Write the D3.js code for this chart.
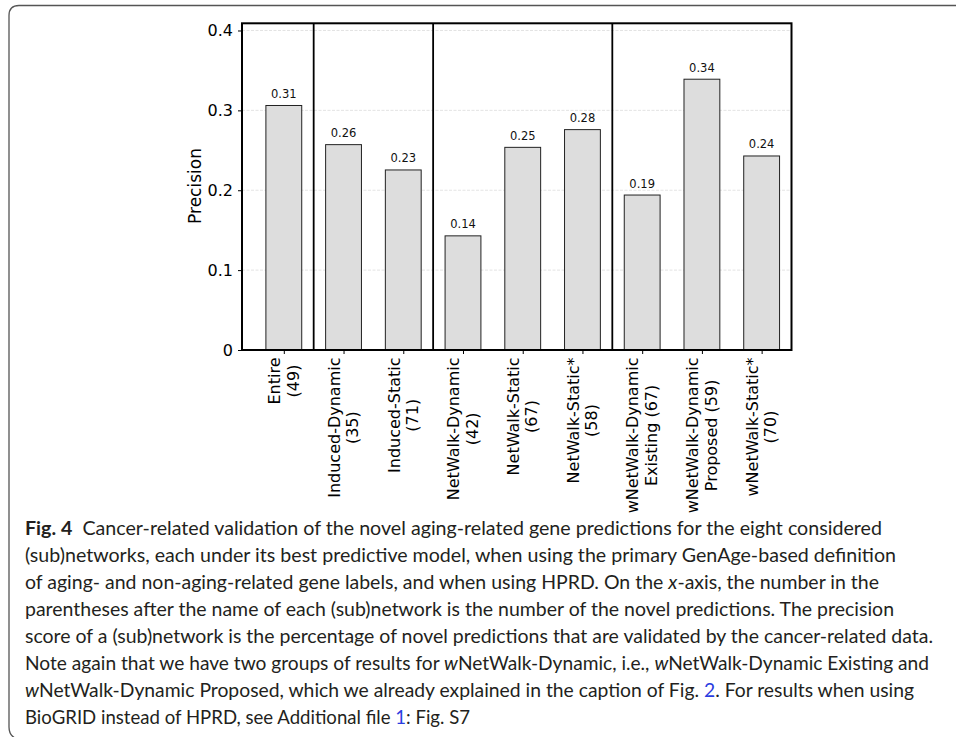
<!DOCTYPE html>
<html>
<head>
<meta charset="utf-8">
<script src="https://cdn.jsdelivr.net/npm/d3@7"></script>
<style>
  body { margin: 0; background: #fff; }
  svg { display: block; }
</style>
</head>
<body>
<svg width="956" height="737"></svg>
<script>
// data
var names = ["Entire", "Induced-Dynamic", "Induced-Static", "NetWalk-Dynamic", "NetWalk-Static",
             "NetWalk-Static*", "wNetWalk-Dynamic Existing", "wNetWalk-Dynamic Proposed", "wNetWalk-Static*"];
var tickLines = [["Entire", "(49)"], ["Induced-Dynamic", "(35)"], ["Induced-Static", "(71)"],
                 ["NetWalk-Dynamic", "(42)"], ["NetWalk-Static", "(67)"], ["NetWalk-Static*", "(58)"],
                 ["wNetWalk-Dynamic", "Existing (67)"], ["wNetWalk-Dynamic", "Proposed (59)"],
                 ["wNetWalk-Static*", "(70)"]];
var precision = [0.3061, 0.2571, 0.2254, 0.1429, 0.2537, 0.2759, 0.1940, 0.3390, 0.2429];
var groupBreaks = [0.5, 2.5, 5.5];
var yTicks = [0, 0.1, 0.2, 0.3, 0.4];

var caption = [
  [["Fig. 4", "b"], ["  Cancer-related validation of the novel aging-related gene predictions for the eight considered"]],
  [["(sub)networks, each under its best predictive model, when using the primary GenAge-based definition"]],
  [["of aging- and non-aging-related gene labels, and when using HPRD. On the "], ["x", "i"], ["-axis, the number in the"]],
  [["parentheses after the name of each (sub)network is the number of the novel predictions. The precision"]],
  [["score of a (sub)network is the percentage of novel predictions that are validated by the cancer-related data."]],
  [["Note again that we have two groups of results for "], ["w", "i"], ["NetWalk-Dynamic, i.e., "], ["w", "i"], ["NetWalk-Dynamic Existing and"]],
  [["w", "i"], ["NetWalk-Dynamic Proposed, which we already explained in the caption of Fig. "], ["2", "l"], [". For results when using"]],
  [["BioGRID instead of HPRD, see Additional file "], ["1", "l"], [": Fig. S7"]]
];
var captionEnds = [882, 896, 879, 894, 933, 929, 914, 470];

var svg = d3.select("svg"),
    plotL = 242, plotR = 791.5, plotT = 23.3, plotB = 350;

var x = d3.scaleLinear().domain([-0.7, 8.5]).range([plotL, plotR]);
var y = d3.scaleLinear().domain([0, 0.409]).range([plotB, plotT]);
var barW = x(0.6) - x(0);

// outer figure frame
svg.append("path")
  .attr("d", "M956,5.5 H19 Q9,5.5 9,15.5 V727 Q9,735 15,738")
  .attr("fill", "none")
  .attr("stroke", "#555")
  .attr("stroke-width", 1.3);

var g = svg.append("g");

// grid
g.append("g")
  .selectAll("line")
  .data(yTicks.slice(1))
  .enter().append("line")
  .attr("x1", plotL).attr("x2", plotR)
  .attr("y1", function(d) { return y(d); })
  .attr("y2", function(d) { return y(d); })
  .attr("stroke", "#dcdcdc")
  .attr("stroke-width", 0.8)
  .attr("stroke-dasharray", "3,1.5");

// bars
g.append("g")
  .selectAll("rect")
  .data(precision)
  .enter().append("rect")
  .attr("x", function(d, i) { return x(i) - barW / 2; })
  .attr("y", function(d) { return y(d); })
  .attr("width", barW)
  .attr("height", function(d) { return y(0) - y(d); })
  .attr("fill", "#dddddd")
  .attr("stroke", "#222")
  .attr("stroke-width", 1);

// value labels
g.append("g")
  .selectAll("text")
  .data(precision)
  .enter().append("text")
  .attr("x", function(d, i) { return x(i); })
  .attr("y", function(d) { return y(d) - 7.5; })
  .attr("text-anchor", "middle")
  .attr("font-family", "DejaVu Sans")
  .attr("font-size", 11.5)
  .attr("fill", "#111")
  .text(d3.format(".2f"));

// group separators
g.append("g")
  .selectAll("line")
  .data(groupBreaks)
  .enter().append("line")
  .attr("x1", function(d) { return x(d); })
  .attr("x2", function(d) { return x(d); })
  .attr("y1", plotT).attr("y2", plotB)
  .attr("stroke", "#000")
  .attr("stroke-width", 1.8);

// frame
g.append("rect")
  .attr("x", plotL).attr("y", plotT)
  .attr("width", plotR - plotL).attr("height", plotB - plotT)
  .attr("fill", "none")
  .attr("stroke", "#000")
  .attr("stroke-width", 2);

// y axis
var yAxis = g.append("g")
  .attr("transform", "translate(" + plotL + ",0)")
  .call(d3.axisLeft(y).tickValues(yTicks).tickSize(4).tickPadding(5)
    .tickFormat(function(d) { return d === 0 ? "0" : d3.format(".1f")(d); }));
yAxis.select(".domain").remove();
yAxis.selectAll("text").attr("font-family", "DejaVu Sans").attr("font-size", 16).attr("fill", "#000");
yAxis.selectAll("line").attr("stroke", "#000").attr("stroke-width", 1);

// x axis ticks
var xAxis = g.append("g")
  .attr("transform", "translate(0," + plotB + ")")
  .call(d3.axisBottom(x).tickValues(d3.range(names.length)).tickSize(4).tickFormat(""));
xAxis.select(".domain").remove();
xAxis.selectAll("line").attr("stroke", "#000").attr("stroke-width", 1);

// x tick labels, rotated, two lines centred on each other
var labelTop = plotB + 7.5;
tickLines.forEach(function(lines, i) {
  var lg = g.append("g");
  var texts = lines.map(function(s) {
    return lg.append("text")
      .attr("font-family", "DejaVu Sans")
      .attr("font-size", 16)
      .attr("fill", "#000")
      .attr("text-anchor", "middle")
      .attr("dominant-baseline", "central")
      .text(s);
  });
  var maxLen = d3.max(texts, function(t) { return t.node().getComputedTextLength(); });
  texts.forEach(function(t, k) {
    var cx = x(i) + (k - (lines.length - 1) / 2) * 18.5;
    var cy = labelTop + maxLen / 2;
    t.attr("transform", "translate(" + cx + "," + cy + ") rotate(-90)");
  });
});

// y label
g.append("text")
  .attr("transform", "translate(201,186) rotate(-90)")
  .attr("text-anchor", "middle")
  .attr("font-family", "DejaVu Sans")
  .attr("font-size", 17)
  .attr("fill", "#000")
  .text("Precision");

// caption
var cap = svg.append("g")
  .attr("font-family", "Lato, 'Open Sans', sans-serif")
  .attr("font-size", 19)
  .attr("fill", "#231f20");

caption.forEach(function(segs, i) {
  var t = cap.append("text")
    .attr("x", 25)
    .attr("y", 535 + i * 27)
    .attr("xml:space", "preserve")
    .style("white-space", "pre");
  segs.forEach(function(s) {
    var sp = t.append("tspan").text(s[0]);
    if (s[1] === "b") sp.attr("font-weight", "bold");
    if (s[1] === "i") sp.attr("font-style", "italic");
    if (s[1] === "l") sp.attr("fill", "#2b3de0");
  });
  t.attr("textLength", captionEnds[i] - 25).attr("lengthAdjust", "spacingAndGlyphs");
});
</script>
</body>
</html>
